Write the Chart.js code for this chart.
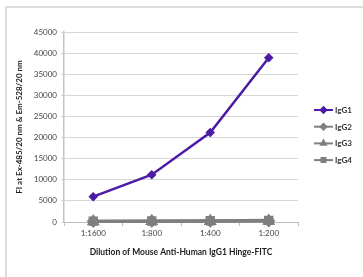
<!DOCTYPE html>
<html>
<head>
<meta charset="utf-8">
<script src="https://cdn.jsdelivr.net/npm/chart.js@4/dist/chart.umd.min.js"></script>
<style>
html,body{margin:0;padding:0;background:#fff;}
canvas{display:block;}
</style>
</head>
<body>
<canvas id="c" width="363" height="277"></canvas>
<script>
const categories = ['1:1600', '1:800', '1:400', '1:200'];
const seriesNames = ['IgG1', 'IgG2', 'IgG3', 'IgG4'];
const igg1 = [6000, 11200, 21200, 38900];
const igg2 = [150, 180, 220, 280];
const igg3 = [120, 150, 200, 250];
const igg4 = [200, 250, 300, 400];
const yTicks = [0, 5000, 10000, 15000, 20000, 25000, 30000, 35000, 40000, 45000];

const PURPLE = '#4d1ca6';
const GRAY = '#7f7f7f';

const frame = {
  id: 'frame',
  beforeDraw(chart) {
    const ctx = chart.ctx;
    ctx.save();
    ctx.fillStyle = '#fff';
    ctx.fillRect(0, 0, chart.width, chart.height);
    ctx.strokeStyle = '#dcdcdc';
    ctx.lineWidth = 2;
    ctx.beginPath();
    ctx.moveTo(chart.width, 7);
    ctx.lineTo(6, 7);
    ctx.lineTo(6, chart.height);
    ctx.stroke();
    ctx.restore();
  }
};

const legendPlugin = {
  id: 'sideLegend',
  afterDraw(chart) {
    const ctx = chart.ctx;
    ctx.save();
    chart.data.datasets.forEach((ds, i) => {
      const y = 110 + i * 16.7;
      ctx.strokeStyle = ds.borderColor;
      ctx.lineWidth = 2;
      ctx.beginPath();
      ctx.moveTo(314, y);
      ctx.lineTo(333, y);
      ctx.stroke();
      ctx.fillStyle = ds.borderColor;
      Chart.helpers.drawPoint(ctx, {pointStyle: ds.pointStyle, radius: 2.8, rotation: 0, borderWidth: 1}, 323.5, y);
      ctx.fillStyle = '#333';
      ctx.font = 'bold 8px Lato';
      ctx.textBaseline = 'middle';
      ctx.textAlign = 'left';
      ctx.fillText(ds.label, 335, y + 0.5);
    });
    ctx.restore();
  }
};

new Chart(document.getElementById('c'), {
  type: 'line',
  data: {
    labels: categories,
    datasets: [
      {label: seriesNames[0], data: igg1, borderColor: PURPLE, backgroundColor: PURPLE, borderWidth: 2.5, pointStyle: 'rectRot', pointRadius: 3, clip: false},
      {label: seriesNames[1], data: igg2, borderColor: GRAY, backgroundColor: GRAY, borderWidth: 3, pointStyle: 'rectRot', pointRadius: 4.5, clip: false},
      {label: seriesNames[2], data: igg3, borderColor: GRAY, backgroundColor: GRAY, borderWidth: 3, pointStyle: 'triangle', pointRadius: 4.5, clip: false},
      {label: seriesNames[3], data: igg4, borderColor: GRAY, backgroundColor: GRAY, borderWidth: 3, pointStyle: 'rect', pointRadius: 4.5, clip: false}
    ]
  },
  options: {
    responsive: false,
    animation: false,
    devicePixelRatio: 1,
    layout: {padding: {left: 11, right: 65, top: 32, bottom: 16}},
    plugins: {legend: {display: false}, tooltip: {enabled: false}},
    scales: {
      x: {
        offset: true,
        grid: {offset: true, drawOnChartArea: false, drawTicks: true, tickLength: 4, color: '#bdbdbd'},
        border: {color: '#bdbdbd', width: 1},
        ticks: {color: '#444', font: {family: 'Lato', size: 8}, padding: 3, maxRotation: 0},
        title: {display: true, text: 'Dilution of Mouse Anti-Human IgG1 Hinge-FITC', color: '#222', font: {family: 'Lato', size: 8.5, weight: 'bold'}, padding: {top: 4, bottom: 4}},
        afterFit(s) { s.height = 277 - 222 - 16; }
      },
      y: {
        min: 0, max: 45000,
        afterBuildTicks(s) { s.ticks = yTicks.map(v => ({value: v})); },
        grid: {color: '#d6d6d6', lineWidth: 1, drawTicks: true, tickLength: 3},
        border: {color: '#c4c4c4', width: 1.5},
        ticks: {color: '#444', font: {family: 'Lato', size: 8}, padding: 4, callback: v => String(v)},
        title: {display: true, text: 'FI at Ex-485/20 nm & Em-528/20 nm', color: '#222', font: {family: 'Lato', size: 8, weight: 'bold'}, padding: {top: 4, bottom: 4}},
        afterFit(s) { s.width = 64 - 11; }
      }
    }
  },
  plugins: [frame, legendPlugin]
});
</script>
</body>
</html>
